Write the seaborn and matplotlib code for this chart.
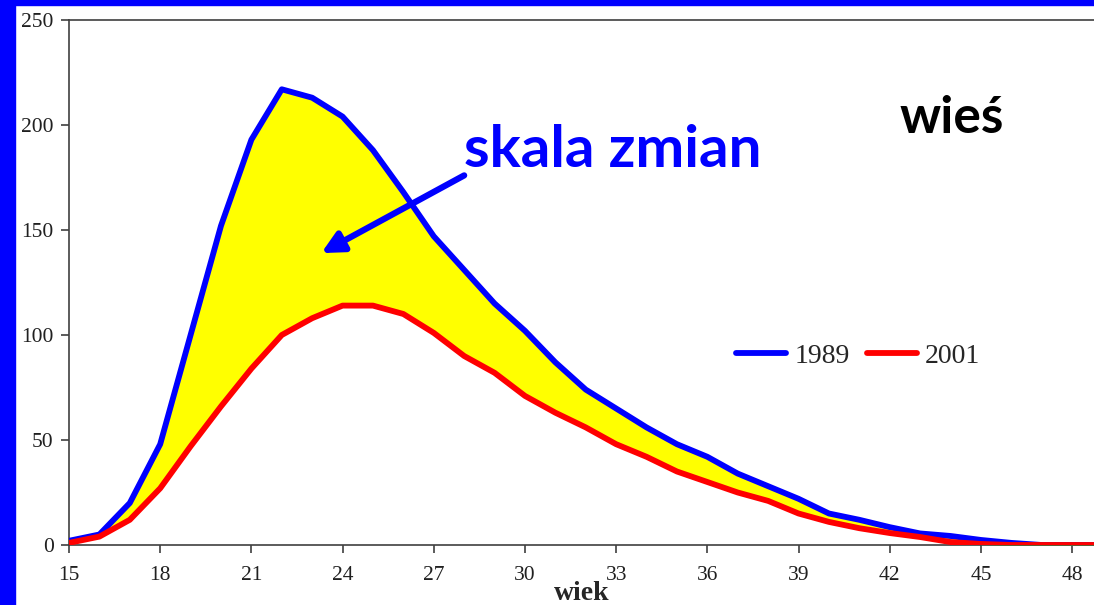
import numpy as np
import pandas as pd
import matplotlib
matplotlib.use("Agg")
import matplotlib.pyplot as plt
from matplotlib.patches import Rectangle
import seaborn as sns

# --- Data ---
ages = list(range(15, 50))
births_1989 = [2, 5, 20, 48, 100, 152, 193, 217, 213, 204, 188, 168, 147, 131,
               115, 102, 87, 74, 65, 56, 48, 42, 34, 28, 22, 15, 12, 8.5, 5.5,
               4.3, 2.4, 1, 0, 0, 0]
births_2001 = [1, 4, 12, 27, 47, 66, 84, 100, 108, 114, 114, 110, 101, 90,
               82, 71, 63, 56, 48, 42, 35, 30, 25, 21, 15, 11, 8, 5.7, 3.8,
               1.4, 0.5, 0, 0, 0, 0]
series_labels = ["1989", "2001"]
series_colors = ["#0000FF", "#FF0000"]
x_ticks = list(range(15, 49, 3))
y_ticks = [0, 50, 100, 150, 200, 250]

df = pd.DataFrame({
    "wiek": ages * 2,
    "value": births_1989 + births_2001,
    "rok": [series_labels[0]] * len(ages) + [series_labels[1]] * len(ages),
})

sns.set_style("white")
plt.rcParams["font.family"] = ["Liberation Serif", "DejaVu Serif"]

fig = plt.figure(figsize=(10.94, 6.05), dpi=100)
fig.patch.set_facecolor("white")
ax = fig.add_axes([69 / 1094, 60 / 605, 1 - 69 / 1094, 525 / 605])

# yellow band between the two curves
ax.fill_between(ages, births_2001, births_1989, color="#FFFF00", zorder=1)

sns.lineplot(data=df, x="wiek", y="value", hue="rok", palette=series_colors,
             linewidth=4.2, ax=ax, zorder=3)

ax.set_xlim(15, 48.72)
ax.set_ylim(0, 250)
ax.set_xticks(x_ticks)
ax.set_yticks(y_ticks)
ax.tick_params(axis="both", direction="out", length=6, width=1.2,
               color="#404040", labelsize=15.5, labelcolor="#202020",
               bottom=True, left=True)
ax.tick_params(axis="x", pad=9)
ax.tick_params(axis="y", pad=5)
for side in ["left", "bottom", "top"]:
    ax.spines[side].set_color("#404040")
    ax.spines[side].set_linewidth(1.2)
ax.spines["right"].set_visible(False)
ax.set_ylabel("")
ax.set_xlabel("wiek", fontsize=20, fontweight="bold", labelpad=-3)

leg = ax.legend(loc="center", bbox_to_anchor=(0.77, 0.36), ncol=2,
                frameon=False, fontsize=20, handlelength=1.8,
                handletextpad=0.3, columnspacing=0.6)
for line in leg.get_lines():
    line.set_linewidth(4.2)

# annotation
ax.annotate("", xy=(23.3, 139), xytext=(28.0, 176),
            arrowprops=dict(arrowstyle="-|>", color="#0000FF", lw=4.5,
                            mutation_scale=32, shrinkA=0, shrinkB=0),
            zorder=5)
ax.text(32.9, 188, "skala zmian", color="#0000FF", fontsize=42,
        fontweight="bold", family="Lato", ha="center", va="center")
ax.text(44.05, 203, "wieś", color="black", fontsize=37,
        fontweight="bold", family="Lato", ha="center", va="center")

# blue frame strips of the slide
fig.patches.append(Rectangle((0, 0), 15 / 1094, 1, transform=fig.transFigure,
                             color="#0000FF", zorder=10))
fig.patches.append(Rectangle((0, 1 - 5 / 605), 1, 5 / 605,
                             transform=fig.transFigure, color="#0000FF",
                             zorder=10))

fig.savefig("out.png", dpi=100)
